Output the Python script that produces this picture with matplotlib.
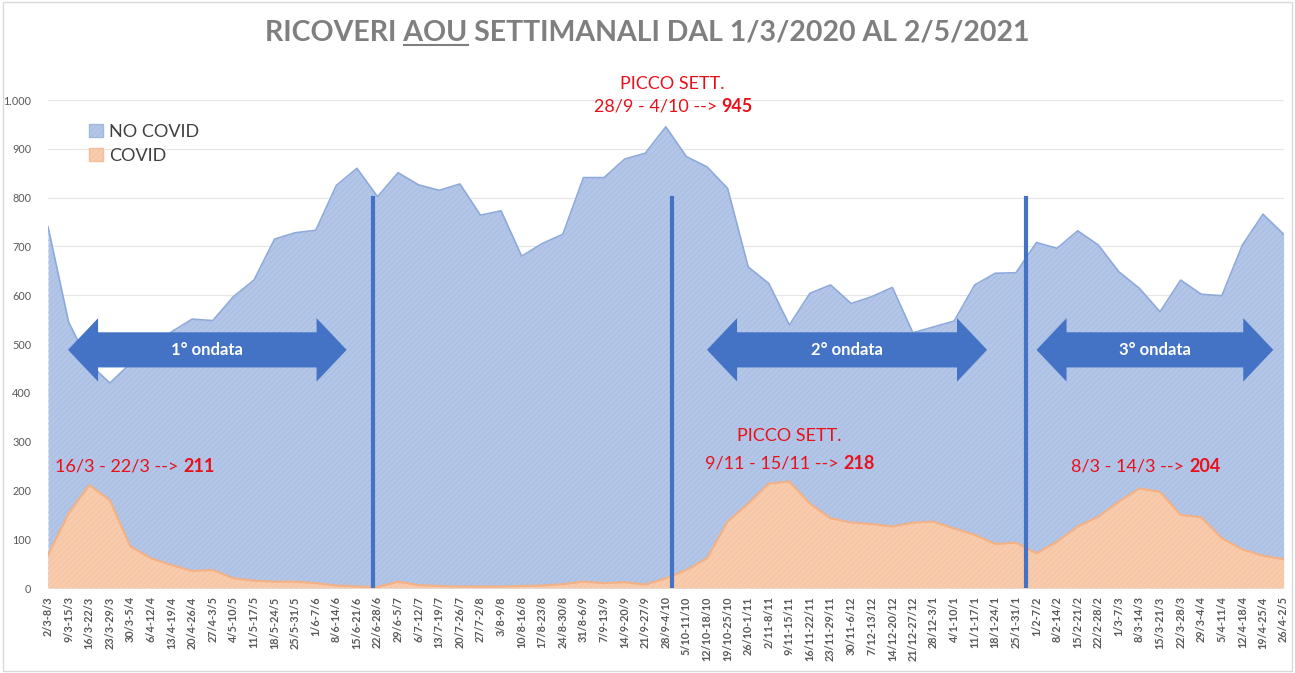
# plot.py - weekly AOU admissions, 1/3/2020 - 2/5/2021
import matplotlib
matplotlib.use("Agg")
import matplotlib.pyplot as plt
from matplotlib.patches import Polygon, Rectangle, Patch

plt.rcParams['font.family'] = ['Lato', 'DejaVu Sans']
plt.rcParams['hatch.linewidth'] = 0.4

# week labels
weeks = ['2/3-8/3', '9/3-15/3', '16/3-22/3', '23/3-29/3', '30/3-5/4', '6/4-12/4',
         '13/4-19/4', '20/4-26/4', '27/4-3/5', '4/5-10/5', '11/5-17/5', '18/5-24/5',
         '25/5-31/5', '1/6-7/6', '8/6-14/6', '15/6-21/6', '22/6-28/6', '29/6-5/7',
         '6/7-12/7', '13/7-19/7', '20/7-26/7', '27/7-2/8', '3/8-9/8', '10/8-16/8',
         '17/8-23/8', '24/8-30/8', '31/8-6/9', '7/9-13/9', '14/9-20/9', '21/9-27/9',
         '28/9-4/10', '5/10-11/10', '12/10-18/10', '19/10-25/10', '26/10-1/11',
         '2/11-8/11', '9/11-15/11', '16/11-22/11', '23/11-29/11', '30/11-6/12',
         '7/12-13/12', '14/12-20/12', '21/12-27/12', '28/12-3/1', '4/1-10/1',
         '11/1-17/1', '18/1-24/1', '25/1-31/1', '1/2-7/2', '8/2-14/2', '15/2-21/2',
         '22/2-28/2', '1/3-7/3', '8/3-14/3', '15/3-21/3', '22/3-28/3', '29/3-4/4',
         '5/4-11/4', '12/4-18/4', '19/4-25/4', '26/4-2/5']

no_covid = [740, 545, 460, 420, 460, 490, 525, 551, 548, 597, 631, 715, 728, 733,
            825, 860, 802, 851, 826, 815, 828, 764, 773, 680, 706, 725, 841, 841,
            879, 891, 945, 884, 863, 819, 658, 624, 539, 604, 621, 583, 597, 616,
            523, 535, 547, 621, 645, 646, 708, 696, 732, 703, 648, 614, 566, 631,
            602, 599, 703, 766, 725]

covid = [68, 153, 211, 180, 85, 61, 47, 35, 37, 20, 15, 13, 13, 10, 5, 3, 2, 13, 6,
         4, 3, 3, 3, 4, 5, 8, 13, 10, 12, 7, 20, 37, 61, 136, 173, 214, 218, 173,
         143, 134, 131, 126, 134, 136, 122, 109, 90, 93, 71, 95, 126, 146, 177, 204,
         197, 150, 145, 102, 79, 66, 59]

# wave separators (position between weeks) and wave arrows (start, end)
separators = [15.8, 30.3, 47.5]
waves = ['1° ondata', '2° ondata', '3° ondata']
wave_spans = [(0.97, 14.5), (32.0, 45.6), (48.0, 59.5)]

x = list(range(len(weeks)))

fig = plt.figure(figsize=(12.95, 6.73), dpi=100)
ax = fig.add_axes([0.0371, 0.1263, 0.9541, 0.7251])

blue_face, blue_edge = '#B3C6E7', '#8EA9DB'
orange_face, orange_edge = '#F8CBAD', '#F4B183'

ax.fill_between(x, no_covid, color=blue_face, lw=0, zorder=2)
ax.fill_between(x, no_covid, facecolor='none', edgecolor='#A2B8E0', hatch='//////', lw=0, zorder=2)
ax.plot(x, no_covid, color=blue_edge, lw=1.2, zorder=3)
ax.fill_between(x, covid, color=orange_face, lw=0, zorder=4)
ax.fill_between(x, covid, facecolor='none', edgecolor='#F3BE99', hatch='//////', lw=0, zorder=4)
ax.plot(x, covid, color=orange_edge, lw=1.5, zorder=5)

ax.set_xlim(0, len(weeks) - 1)
ax.set_ylim(0, 1000)
ax.set_yticks(range(0, 1001, 100))
ax.set_yticklabels(['0', '100', '200', '300', '400', '500', '600', '700', '800', '900', '1.000'])
ax.set_xticks(x)
ax.set_xticklabels(weeks, rotation=90, fontsize=7.8, color='#595959', fontweight='bold')
ax.tick_params(axis='y', length=0, pad=12, labelsize=7.8, labelcolor='#595959')
ax.tick_params(axis='x', length=0, pad=6)
ax.grid(axis='y', color='#E6E6E6', lw=0.8, zorder=0)
for s in ax.spines.values():
    s.set_visible(False)

# separators
for sx in separators:
    ax.plot([sx, sx], [0, 800], color='#4472C4', lw=3, zorder=6)

# double arrows
head_len = 1.46
body_h, head_h = 36, 65
arrow_y = 488
for (x0, x1), label in zip(wave_spans, waves):
    pts = [(x0, arrow_y), (x0 + head_len, arrow_y + head_h), (x0 + head_len, arrow_y + body_h),
           (x1 - head_len, arrow_y + body_h), (x1 - head_len, arrow_y + head_h), (x1, arrow_y),
           (x1 - head_len, arrow_y - head_h), (x1 - head_len, arrow_y - body_h),
           (x0 + head_len, arrow_y - body_h), (x0 + head_len, arrow_y - head_h)]
    ax.add_patch(Polygon(pts, closed=True, facecolor='#4472C4', edgecolor='none', zorder=7))
    ax.text((x0 + x1) / 2, arrow_y, label, ha='center', va='center', color='white',
            fontsize=12, fontweight='bold', zorder=8)

# peak annotations (left edge given)
red = '#E8111B'
def peak_label(xp, yp, plain, bold):
    t = ax.text(xp, yp, plain, ha='left', va='center', color=red, fontsize=13,
                zorder=9, clip_on=False)
    ax.annotate(bold, xy=(1, 0.5), xycoords=t, ha='left', va='center',
                color=red, fontsize=13, fontweight='bold', zorder=9)

peak_label(0.34, 250, '16/3 - 22/3 --> ', '211')
ax.text(30.3, 1033, 'PICCO SETT.', ha='center', va='center', color=red, fontsize=13, clip_on=False)
peak_label(26.5, 986, '28/9 - 4/10 --> ', '945')
ax.text(36.0, 311, 'PICCO SETT.', ha='center', va='center', color=red, fontsize=13, zorder=9)
peak_label(31.9, 256, '9/11 - 15/11 --> ', '218')
peak_label(49.7, 250, '8/3 - 14/3 --> ', '204')

# legend
handles = [Patch(facecolor=blue_face, edgecolor='#A2B8E0', hatch='//////', label='NO COVID'),
           Patch(facecolor=orange_face, edgecolor='#F3BE99', hatch='//////', label='COVID')]
leg = ax.legend(handles=handles, loc='upper left', bbox_to_anchor=(0.02, 0.985), frameon=False,
                fontsize=13, handlelength=0.75, handleheight=0.75, handletextpad=0.35,
                labelspacing=0.45, labelcolor='#404040')

# title with underlined AOU
title_kw = dict(fontsize=20.5, fontweight='bold', color='#7F7F7F', ha='center', va='center')
t = fig.text(0.5, 0.951, 'RICOVERI AOU SETTIMANALI DAL 1/3/2020 AL 2/5/2021', **title_kw)
fig.canvas.draw()
r = fig.canvas.get_renderer()
bb = t.get_window_extent(r)
def text_w(s):
    tmp = fig.text(0, 0, s, fontsize=20.5, fontweight='bold')
    w = tmp.get_window_extent(r).width
    tmp.remove()
    return w
u0 = bb.x0 + text_w('RICOVERI ')
u1 = bb.x0 + text_w('RICOVERI AOU')
uy = bb.y0 + 1
fig.add_artist(plt.Line2D([u0 / fig.bbox.width, u1 / fig.bbox.width],
                          [uy / fig.bbox.height, uy / fig.bbox.height],
                          color='#7F7F7F', lw=1.5))

# outer frame
fig.add_artist(Rectangle((0.002, 0.003), 0.996, 0.994, transform=fig.transFigure,
                         fill=False, edgecolor='#D9D9D9', lw=1))

fig.savefig('out.png', dpi=100)
